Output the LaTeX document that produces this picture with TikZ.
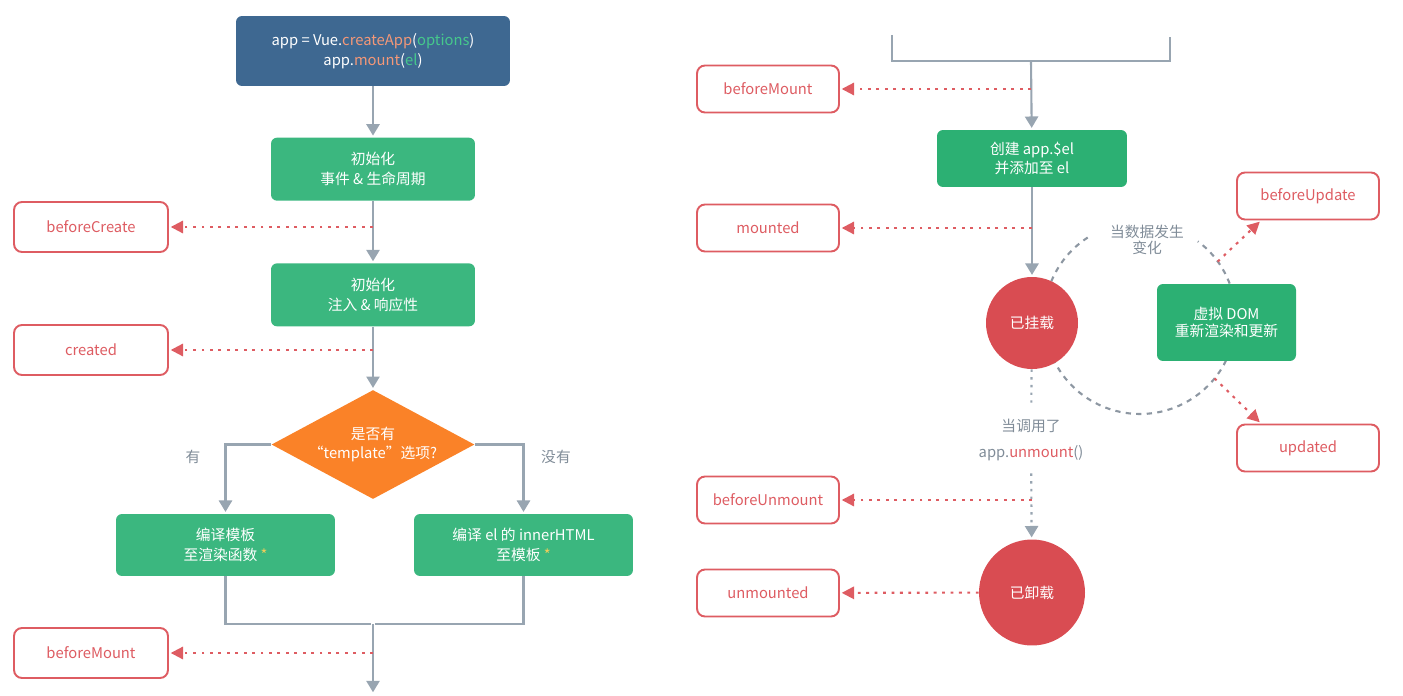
\documentclass[tikz,border=0pt]{standalone}
\usepackage{fontspec}
\setmainfont{Noto Sans CJK SC}
\usetikzlibrary{arrows.meta,positioning,shapes.geometric}

\definecolor{vueblue}{RGB}{62,104,145}
\definecolor{vuegreen}{RGB}{59,183,127}
\definecolor{vuegreendk}{RGB}{44,176,115}
\definecolor{vueorange}{RGB}{250,130,40}
\definecolor{hookred}{RGB}{222,92,98}
\definecolor{statered}{RGB}{217,76,82}
\definecolor{linegray}{RGB}{152,165,177}
\definecolor{labelgray}{RGB}{128,140,152}
\definecolor{codeorange}{RGB}{244,152,120}
\definecolor{codegreen}{RGB}{70,200,140}
\definecolor{staryellow}{RGB}{240,205,90}

\begin{document}
\begin{tikzpicture}[
    x = 0.02cm, y = -0.02cm, % one unit = one pixel of the sketch
    font = \fontsize{8.4}{11.3}\selectfont,
    > = {Triangle[width=7.5pt,length=6.5pt]}, % arrow head style
    shorten > = 1pt % don't touch arrow head to node
    ]

    \tikzset{
    box/.style = {rounded corners=0.12cm, align=center, text=white, inner sep=0pt},
    procbox/.style = {box, fill=vuegreen, minimum width=4.08cm, minimum height=1.26cm},
    hookbox/.style = {rounded corners=0.16cm, draw=hookred, line width=1.1pt, text=hookred,
        fill=white, minimum width=3.08cm, minimum height=1cm},
    hookboxR/.style = {hookbox, minimum width=2.84cm, minimum height=0.94cm},
    statecirc/.style = {circle, fill=statered, text=white, inner sep=0pt},
    flow/.style = {draw=linegray, line width=1.2pt},
    dotline/.style = {flow, dash pattern=on 1.4pt off 3pt},
    hookline/.style = {draw=hookred, line width=1.2pt, dash pattern=on 1.6pt off 3.2pt,
        -{Triangle[width=7pt,length=7pt]}},
    updcycle/.style = {draw=labelgray!90, line width=1.2pt, dash pattern=on 3pt off 3pt},
    note/.style = {text=labelgray}
    }

    \useasboundingbox (0,0) rectangle (1403,696);

    % update cycle, behind the nodes (gap at the top for its label)
    \coordinate (loopc) at (1140,318);
    \draw[updcycle] (loopc) ++(123:1.92cm) arc[start angle=123, end angle=414, radius=1.92cm];
    \path (loopc) ++(36:1.92cm) coordinate (upfrom);
    \path (loopc) ++(-39:1.92cm) coordinate (downfrom);

    % left column
    \node[box, fill=vueblue, minimum width=5.48cm, minimum height=1.4cm] (app) at (373,51)
        {app = Vue.\textcolor{codeorange}{createApp}(\textcolor{codegreen}{options})\\
         app.\textcolor{codeorange}{mount}(\textcolor{codegreen}{el})};
    \node[procbox] (initev) [below=1.02cm of app] {初始化\\事件 \& 生命周期};
    \node[procbox] (initre) [below=1.24cm of initev] {初始化\\注入 \& 响应性};
    \node[diamond, fill=vueorange, text=white, align=center, inner sep=0pt, aspect=1.86,
        minimum width=4.06cm, minimum height=2.18cm] (tpl) [below=1.26cm of initre]
        {是否有\\[-1pt]“template”选项?};
    \node[procbox, minimum width=4.38cm, minimum height=1.24cm] (cmptpl) at (225.5,545)
        {编译模板\\至渲染函数 \textcolor{staryellow}{*}};
    \node[procbox, minimum width=4.38cm, minimum height=1.24cm] (cmpel) at (523.5,545)
        {编译 el 的 innerHTML\\至模板 \textcolor{staryellow}{*}};
    \node[note] (yes) at (193,457) {有};
    \node[note] (no) at (556,457) {没有};
    \coordinate (merge) at (373,624);
    \coordinate (downL) at (373,694);

    \node[hookbox] (bcreate) at (91,227) {beforeCreate};
    \node[hookbox] (created) at (91,350) {created};
    \node[hookbox] (bmountL) at (91,653) {beforeMount};

    % right column
    \coordinate (brL) at (892,35);
    \coordinate (brR) at (1170,35);
    \coordinate (brM) at (1031,61);
    \node[procbox, fill=vuegreendk, minimum width=3.8cm, minimum height=1.14cm] (mkel) at (1032,158.5)
        {创建 app.\$el\\并添加至 el};
    \node[statecirc, minimum size=1.84cm] (stmounted) at (1032,323) {已挂载};
    \node[procbox, fill=vuegreendk, minimum width=2.78cm, minimum height=1.54cm] (vdom) at (1226.5,322.5)
        {虚拟 DOM\\[-1.5pt]重新渲染和更新};
    \node[note, align=center] (change) at (1147,240)
        {当数据发生\\[-2pt]变化};
    \node[note, align=center, inner ysep=7pt] (call) at (1031,440)
        {当调用了\\[3.4pt]app.\textcolor{hookred}{unmount}()};
    \node[statecirc, minimum size=2.12cm] (stunmounted) at (1032,592.5) {已卸载};

    \node[hookboxR] (bmountR) at (768,89) {beforeMount};
    \node[hookboxR] (mountedh) at (768,228) {mounted};
    \node[hookboxR] (bupdate) at (1308,196) {beforeUpdate};
    \node[hookboxR] (updated) at (1308,448) {updated};
    \node[hookboxR] (bunmount) at (768,500) {beforeUnmount};
    \node[hookboxR] (unmountedh) at (768,593) {unmounted};

    % flow
    \draw[flow, ->] (app) -- (initev);
    \draw[flow, ->] (initev) -- (initre);
    \draw[flow, ->] (initre) -- (tpl);
    \draw[flow, ->] (tpl.west) -| (cmptpl);
    \draw[flow, ->] (tpl.east) -| (cmpel);
    \draw[flow] (cmptpl.south) |- (merge);
    \draw[flow] (cmpel.south) |- (merge);
    \draw[flow, ->] (merge) -- (downL);

    \draw[flow] (brL) -- (brL |- brM) -- (brR |- brM) -- (brR);
    \draw[flow, ->] (brM) -- (mkel);
    \draw[flow, ->] (mkel) -- (stmounted);
    \draw[dotline] (stmounted) -- (call);
    \draw[dotline, ->] (call) -- (stunmounted);

    % hooks
    \draw[hookline] (bcreate.east -| initev.south) -- (bcreate);
    \draw[hookline] (created.east -| initre.south) -- (created);
    \draw[hookline] (bmountL.east -| merge) -- (bmountL);
    \draw[hookline] (bmountR.east -| brM) -- (bmountR);
    \draw[hookline] (mountedh.east -| mkel.south) -- (mountedh);
    \draw[hookline] (upfrom) -- ([xshift=0.5cm]bupdate.south west);
    \draw[hookline] (downfrom) -- ([xshift=0.5cm]updated.north west);
    \draw[hookline] (bunmount.east -| stunmounted.north) -- (bunmount);
    \draw[hookline] (stunmounted) -- (unmountedh);
\end{tikzpicture}
\end{document}
